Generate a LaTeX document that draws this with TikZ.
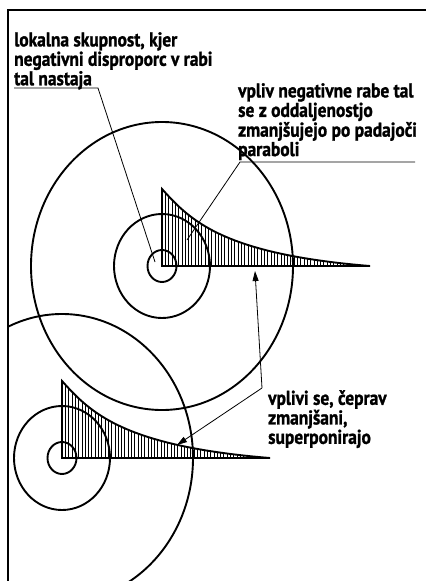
\documentclass[tikz,border=0pt]{standalone}
\usepackage{fontspec}
\setmainfont{PT Sans}[FakeStretch=0.87, BoldFeatures={FakeBold=1.2}]
\usetikzlibrary{arrows.meta}

\begin{document}
\begin{tikzpicture}[x=1pt, y=-1pt,
  ring/.style={draw, line width=1.9pt},
  leader/.style={draw, line width=0.8pt},
  remark/.style={font=\bfseries\fontsize{20}{17.4}\selectfont, align=left, inner sep=0pt, anchor=north west},
  decay/.pic={
    \begin{scope}
      \clip (0,0) -- (0,-77) .. controls (28,-46) and (60,-12) .. (208,0) -- cycle;
      \foreach \u in {3.3,6.6,...,207} \draw[line width=0.5pt] (\u,0) -- (\u,-80);
    \end{scope}
    \draw[line width=1.9pt, line join=miter] (0,0) -- (0,-77) .. controls (28,-46) and (60,-12) .. (208,0) -- cycle;
  },
]
  \useasboundingbox (0,0) rectangle (426,581);

  % centres of the two communities
  \coordinate (o1) at (162,266);
  \coordinate (o2) at (62,458);

  \begin{scope}
    \clip (8,10) rectangle (426,581);
    \draw[ring] (o1) ellipse [x radius=131pt, y radius=144pt];
    \draw[ring] (o2) ellipse [x radius=131pt, y radius=144pt];
    \draw[ring] (o1) ellipse [x radius=48pt, y radius=52pt];
    \draw[ring] (o2) ellipse [x radius=48pt, y radius=52pt];
    \pic at (o1) {decay};
    \pic at (o2) {decay};
    \draw[ring] (o1) ellipse [x radius=14.5pt, y radius=16pt];
    \draw[ring] (o2) ellipse [x radius=14.5pt, y radius=16pt];
  \end{scope}

  % frame
  \draw[line width=2.5pt] (8,581) -- (8,10) -- (426,10);

  % labels
  \node[remark] (lokal) at (14,32) {lokalna skupnost, kjer\\negativni disproporc v rabi\\tal nastaja};
  \node[remark] (vpliv) at (238,83) {vpliv negativne rabe tal\\se z oddaljenostjo\\zmanjšujejo po padajoči\\paraboli};
  \node[remark] (superp) at (268,390) {vplivi se, čeprav\\zmanjšani,\\superponirajo};

  % leaders
  \coordinate (u1) at (14,88);
  \coordinate (k1) at (98,88);
  \coordinate (t1) at (155,262);
  \draw[leader] (u1) -- (k1) -- (t1);

  \coordinate (u2) at (240,162);
  \coordinate (e2) at (415,162);
  \coordinate (t2) at (187,240);
  \draw[leader] (e2) -- (u2) -- (t2);

  \coordinate (k3) at (262,388);
  \coordinate (a3) at (255,271);
  \coordinate (b3) at (177,445);
  \draw[leader, -{Triangle[length=10pt,width=6pt]}] (k3) -- (a3);
  \draw[leader, -{Triangle[length=10pt,width=6pt]}] (k3) -- (b3);
\end{tikzpicture}
\end{document}
